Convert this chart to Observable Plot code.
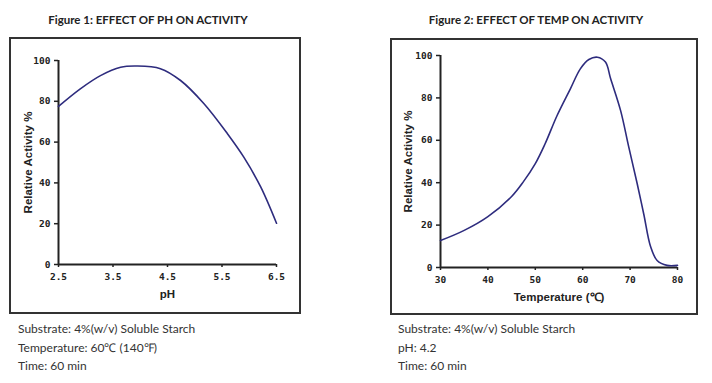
<!DOCTYPE html>
<html><head><meta charset="utf-8">
<script src="https://cdn.jsdelivr.net/npm/d3@7"></script>
<script src="https://cdn.jsdelivr.net/npm/@observablehq/plot@0.6"></script>
<style>
html,body{margin:0;padding:0;background:#fff;}
#root{position:relative;width:712px;height:383px;background:#fff;overflow:hidden;}
.title{position:absolute;font-family:Lato,"Open Sans",sans-serif;font-weight:bold;font-size:11.5px;color:#222;white-space:nowrap;transform:translateX(-50%);}
.box{position:absolute;border:2px solid #333;box-sizing:border-box;}
.plot{position:absolute;}
.cap{position:absolute;font-family:Lato,"Open Sans",sans-serif;font-size:12px;color:#333;line-height:18.5px;white-space:nowrap;}
</style>
</head><body>
<div id="root">
  <div class="title" style="left:148px;top:13px">Figure 1: EFFECT OF PH ON ACTIVITY</div>
  <div class="title" style="left:536px;top:13px">Figure 2: EFFECT OF TEMP ON ACTIVITY</div>
  <div class="plot" id="p1" style="left:9px;top:37px"></div>
  <div class="plot" id="p2" style="left:390px;top:38px"></div>
  <div class="box" style="left:9px;top:37px;width:292px;height:277px"></div>
  <div class="box" style="left:390px;top:38px;width:308px;height:277px"></div>
  <div class="cap" style="left:18px;top:320px">Substrate: 4%(w/v) Soluble Starch<br>Temperature: 60℃ (140℉)<br>Time: 60 min</div>
  <div class="cap" style="left:398px;top:320px">Substrate: 4%(w/v) Soluble Starch<br>pH: 4.2<br>Time: 60 min</div>
</div>
<script>
// Figure 1: pH vs relative activity
const phValues = [2.5, 2.9, 3.27, 3.64, 3.94, 4.37, 4.74, 5.17, 5.6, 5.9, 6.21, 6.5];
const phActivity = [77.5, 86.1, 92.6, 96.7, 97.3, 96.0, 90.2, 78.8, 64.1, 52.6, 38.0, 20.2];
const phTicks = [2.5, 3.5, 4.5, 5.5, 6.5];

// Figure 2: temperature vs relative activity
const tempValues = [30, 35, 40, 45, 47.5, 50, 52, 54.6, 57.4, 59.5, 61.3, 63.1, 64.8, 65.9, 68, 69.7, 71.5, 72.9, 74.3, 75.7, 77.8, 80];
const tempActivity = [12.7, 17.5, 24, 33.5, 40.5, 49, 58, 71.7, 84.3, 93.7, 98.1, 99.2, 96.9, 89, 74, 57, 39.5, 25, 10, 3.3, 1, 1];
const tempTicks = [30, 40, 50, 60, 70, 80];

const yTicks = [0, 20, 40, 60, 80, 100];

const lineColor = "#2e2c7e";
const tickFont = "'DejaVu Sans Mono', monospace";
const labelFont = "'Liberation Sans', Arial, sans-serif";

function makeChart({xs, ys, xDomain, xTicks, xFmt, xLabel, width, height, margins, yTitleDx}) {
  const data = xs.map((x, i) => ({x, y: ys[i]}));
  return Plot.plot({
    width, height,
    marginLeft: margins[0], marginRight: margins[1], marginTop: margins[2], marginBottom: margins[3],
    style: {background: "transparent", color: "#222", fontFamily: tickFont},
    x: {domain: xDomain},
    y: {domain: [0, 100]},
    marks: [
      Plot.axisY({ticks: yTicks, tickSize: 4, tickPadding: 4, label: null, fontSize: 9.5, fontWeight: "bold", fontFamily: tickFont, strokeWidth: 1.5}),
      Plot.axisX({ticks: xTicks, tickSize: 3, tickPadding: 6, label: null, fontSize: 9.5, fontWeight: "bold", fontFamily: tickFont, tickFormat: xFmt, strokeWidth: 1.5}),
      Plot.ruleX([xDomain[0]], {y1: 0, y2: 100, stroke: "#222", strokeWidth: 2}),
      Plot.ruleY([0], {x1: xDomain[0], x2: xDomain[1], stroke: "#222", strokeWidth: 2}),
      Plot.line(data, {x: "x", y: "y", stroke: lineColor, strokeWidth: 1.6, curve: "catmull-rom"}),
      Plot.text([xLabel], {frameAnchor: "bottom", dy: 33, text: d => d, fontFamily: labelFont, fontWeight: "bold", fontSize: 11.5, fill: "#222"}),
      Plot.text(["Relative Activity %"], {frameAnchor: "left", textAnchor: "middle", dx: yTitleDx, rotate: -90, text: d => d, fontFamily: labelFont, fontWeight: "bold", fontSize: 11.5, fill: "#222"})
    ]
  });
}

document.getElementById("p1").appendChild(makeChart({
  xs: phValues, ys: phActivity, xDomain: [2.5, 6.5], xTicks: phTicks, xFmt: d => d.toFixed(1),
  xLabel: "pH", width: 292, height: 277, margins: [49, 25, 23, 50], yTitleDx: -30
}));
document.getElementById("p2").appendChild(makeChart({
  xs: tempValues, ys: tempActivity, xDomain: [30, 80], xTicks: tempTicks, xFmt: d => String(d),
  xLabel: "Temperature (℃)", width: 308, height: 277, margins: [50, 21, 17, 48], yTitleDx: -32
}));
</script>
</body></html>
